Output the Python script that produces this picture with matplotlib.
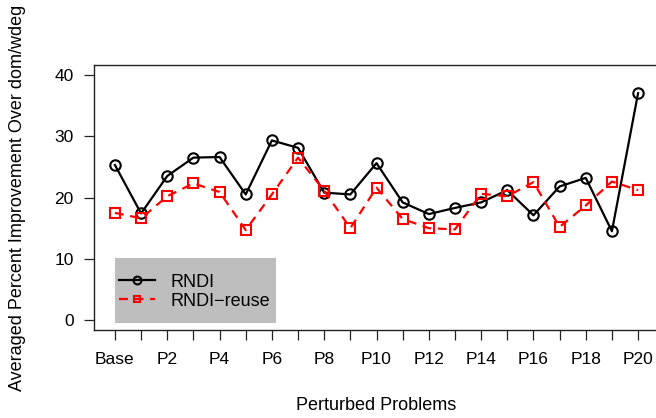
import matplotlib
matplotlib.use("Agg")
import matplotlib.pyplot as plt
from matplotlib.patches import Rectangle
import numpy as np

plt.rcParams['font.family'] = ['Liberation Sans', 'DejaVu Sans']

problems = ["Base"] + [f"P{i}" for i in range(1, 21)]
rndi = [25.3, 17.4, 23.5, 26.5, 26.6, 20.5, 29.3, 28.1, 20.8, 20.5,
        25.6, 19.2, 17.3, 18.3, 19.2, 21.2, 17.1, 21.8, 23.2, 14.5, 37.0]
rndi_reuse = [17.5, 16.6, 20.2, 22.3, 20.9, 14.7, 20.5, 26.5, 21.1, 15.0,
              21.6, 16.5, 15.0, 14.8, 20.6, 20.2, 22.5, 15.2, 18.7, 22.6, 21.2]
yticks = [0, 10, 20, 30, 40]

W, H = 656, 418
fs = 12.5
lfs = 13
fig = plt.figure(figsize=(W / 100, H / 100), dpi=100)
left, right, top, bottom = 94, 659, 65, 330
aw, ah = right - left, bottom - top
ax = fig.add_axes([left / W, 1 - bottom / H, aw / W, ah / H])

x = np.arange(1, len(problems) + 1)
ax.plot(x, rndi, color='black', lw=1.6, marker='o', ms=7.5, mfc='none', mew=1.5, label='RNDI')
ax.plot(x, rndi_reuse, color='red', lw=1.6, ls=(0, (4, 3)), marker='s', ms=6.5, mfc='none',
        mew=1.5, label='RNDI\u2212reuse')

ax.set_xlim(1 - 0.04 * 20, 21 + 0.04 * 20)
ax.set_ylim(-1.6, 41.6)
ax.set_xticks(x)
ax.set_xticklabels([p if i % 2 == 0 else '' for i, p in enumerate(problems)])
ax.set_yticks(yticks)
ax.tick_params(direction='out', length=7.5, width=0.9, labelsize=fs, color='#222222')
ax.tick_params(axis='x', pad=8.5)
ax.tick_params(axis='y', pad=7)
for s in ax.spines.values():
    s.set_linewidth(1.0)
    s.set_color('#222222')

ax.set_xlabel('Perturbed Problems', fontsize=lfs)
ax.xaxis.label.set_va('center')
ax.xaxis.set_label_coords(0.5, (bottom - 405) / ah)
ax.set_ylabel('Averaged Percent Improvement Over dom/wdeg', fontsize=lfs)
ax.yaxis.label.set_va('center')
ax.yaxis.set_label_coords((18 - left) / aw, 0.5)

# legend background box
ax.add_patch(Rectangle(((115 - left) / aw, (bottom - 323) / ah), (276 - 115) / aw, (323 - 258) / ah,
                       transform=ax.transAxes, facecolor='#bebebe', edgecolor='none', zorder=4))
leg = ax.legend(loc='center left', bbox_to_anchor=((119 - left) / aw, (bottom - 291.7) / ah),
                frameon=False, fontsize=lfs, handlelength=2.0, borderpad=0, labelspacing=0.1,
                handletextpad=0.85, borderaxespad=0, markerscale=0.75)
leg.set_zorder(5)

fig.savefig('out.png', dpi=100)
